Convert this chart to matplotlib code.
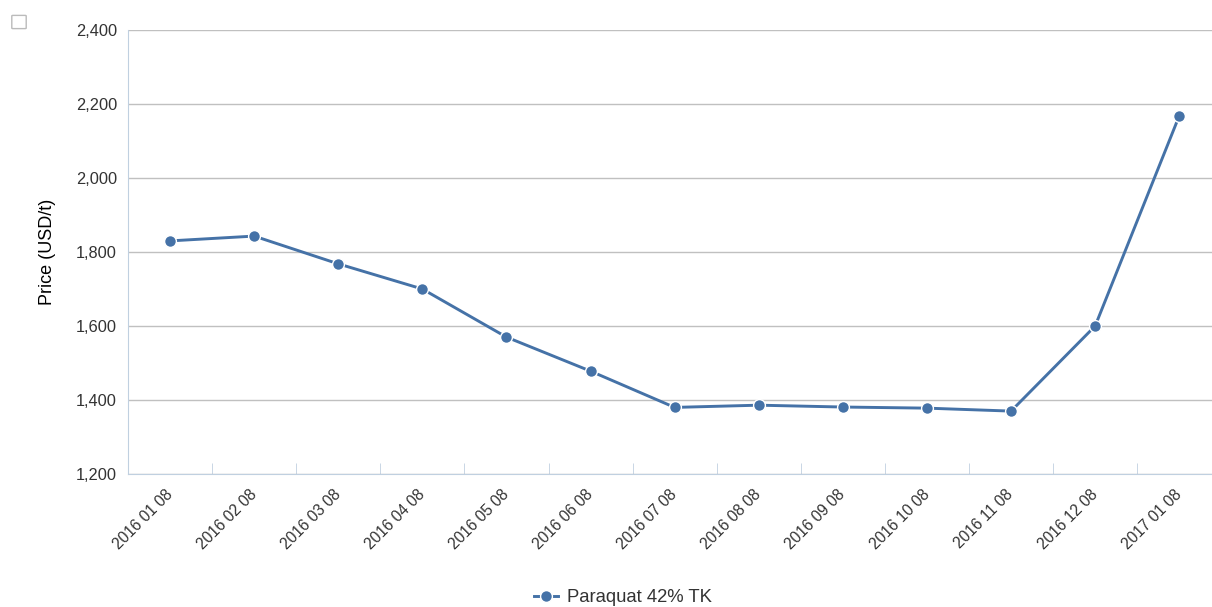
import matplotlib.pyplot as plt
from matplotlib.patches import FancyBboxPatch
from matplotlib.ticker import FuncFormatter

plt.rcParams['font.family'] = ['Liberation Sans', 'DejaVu Sans']

dates = ['2016 01 08', '2016 02 08', '2016 03 08', '2016 04 08', '2016 05 08',
         '2016 06 08', '2016 07 08', '2016 08 08', '2016 09 08', '2016 10 08',
         '2016 11 08', '2016 12 08', '2017 01 08']
prices = [1830, 1843, 1768, 1700, 1570, 1478, 1380, 1386, 1381, 1378, 1370, 1600, 2168]

W, H = 1212, 607
fig = plt.figure(figsize=(W / 100, H / 100), dpi=100)
ax = fig.add_axes([128 / W, 1 - 474 / H, (W - 128) / W, 444 / H])

x = list(range(len(dates)))
ax.plot(x, prices, color='#4572A7', lw=2.1, marker='o', ms=8.5,
        mec='white', mew=1.0, label='Paraquat 42% TK', zorder=3, clip_on=False)

ax.set_yticks(range(1200, 2401, 200))
ax.yaxis.set_major_formatter(FuncFormatter(lambda v, p: f'{int(v):,}'))
ax.grid(axis='y', color='#C0C0C0', lw=1)
ax.set_axisbelow(True)

for s in ['top', 'right']:
    ax.spines[s].set_visible(False)
ax.spines['left'].set_color('#C0D0E0')
ax.spines['bottom'].set_color('#C0D0E0')

ax.set_xticks(x)
ax.set_xticklabels(dates, rotation=45, ha='right', va='center', rotation_mode='anchor')
ax.set_xticks([i + 0.5 for i in x[:-1]], minor=True)
ax.tick_params(axis='x', which='major', length=0, pad=13, labelsize=11.2, labelcolor='#333333')
ax.tick_params(axis='x', which='minor', length=8, direction='in', color='#C0D0E0')
ax.tick_params(axis='y', length=0, pad=8, labelsize=11.8, labelcolor='#333333')
ax.set_ylabel('Price (USD/t)', fontsize=13, color='#000000', labelpad=14)

# limits last so the tick calls do not widen them
ax.set_ylim(1200, 2400)
ax.set_xlim(-0.5, (W - 128) / 84.1 - 0.5)

fig.legend(loc='center', bbox_to_anchor=(623 / W, 1 - 598 / H), frameon=False,
           fontsize=13.3, handlelength=1.3, handletextpad=0.5, labelcolor='#333333')

box = FancyBboxPatch((13 / W, 1 - 28 / H), 12 / W, 12 / H,
                     boxstyle='round,pad=0.001', transform=fig.transFigure,
                     fc='white', ec='#BBBBBB', lw=1)
fig.patches.append(box)

fig.savefig('out.png', dpi=100)
